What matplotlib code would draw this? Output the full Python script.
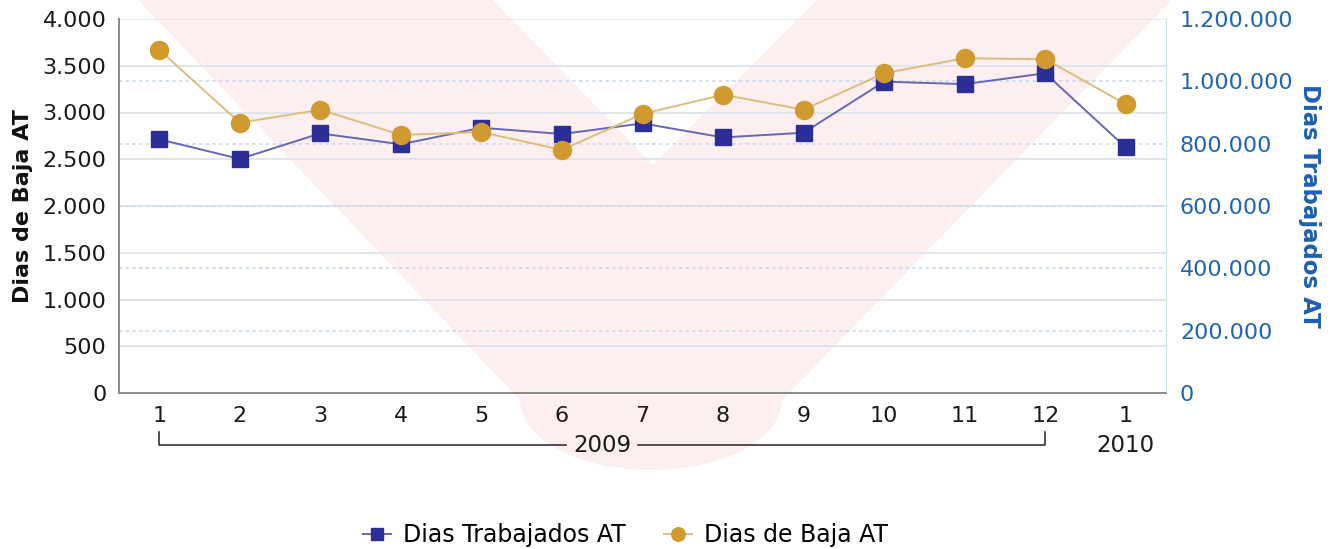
import numpy as np
import matplotlib
matplotlib.use("Agg")
import matplotlib.pyplot as plt
from matplotlib.patches import Polygon
from matplotlib.lines import Line2D
from matplotlib.ticker import FuncFormatter, MultipleLocator
from matplotlib.transforms import blended_transform_factory

plt.rcParams['font.family'] = ['DejaVu Sans']

# data
months = ['1', '2', '3', '4', '5', '6', '7', '8', '9', '10', '11', '12', '1']
years = ['2009', '2010']
dias_baja = [3670, 2890, 3030, 2760, 2790, 2600, 2985, 3190, 3030, 3420, 3580, 3570, 3090]
dias_trabajados = [814000, 751000, 833000, 798000, 851000, 831000, 865000,
                   820000, 835000, 999000, 991000, 1026000, 788000]

W, H = 1342, 549
fig = plt.figure(figsize=(W / 100, H / 100), dpi=100, facecolor='white')


def px(x, y):
    return (x / W, 1 - y / H)


# pink "V" watermark in the background
outer = [px(1172, 0)] + [px(651 + 131 * np.cos(a), 400 + 70 * np.sin(a))
                         for a in np.linspace(0, np.pi, 40)] + [px(138, 0)]
fig.patches.append(Polygon(outer, closed=True, transform=fig.transFigure,
                           facecolor='#FDEFEF', edgecolor='none', zorder=0))
inner = [px(493, 0), px(817, 0), px(653, 165)]
fig.patches.append(Polygon(inner, closed=True, transform=fig.transFigure,
                           facecolor='white', edgecolor='none', zorder=0))

ax = fig.add_axes([119 / W, 1 - 393 / H, (1166 - 119) / W, (393 - 19) / H])
ax2 = ax.twinx()
ax.set_zorder(2)
ax2.set_zorder(1)
ax.patch.set_visible(False)
ax2.patch.set_visible(False)

x = np.arange(len(months))

# grids (both drawn on the lower axes so markers stay on top)
blend = blended_transform_factory(ax2.transAxes, ax.transData)
for v in np.arange(500, 4001, 500):
    ax2.plot([0, 1], [v, v], transform=blend, color='#DCE2E8', lw=1.2, zorder=0)
for v in np.arange(200000, 1000001, 200000):
    ax2.axhline(v, color='#C9D9EE', lw=1.2, ls=(0, (2, 2)), zorder=0)

ax2.plot(x, dias_trabajados, color='#6567B5', lw=1.4, marker='s', markersize=11.5,
         markerfacecolor='#2B2E96', markeredgecolor='#2B2E96', zorder=3,
         label='Dias Trabajados AT')
ax.plot(x, dias_baja, color='#D9BE80', lw=1.4, marker='o', markersize=13,
        markerfacecolor='#D09A2E', markeredgecolor='#D09A2E', zorder=3,
        label='Dias de Baja AT')

ax.set_xlim(-0.5, len(months) - 0.5)
ax.set_ylim(0, 4000)
ax2.set_ylim(0, 1200000)
ax.yaxis.set_major_locator(MultipleLocator(500))
ax2.yaxis.set_major_locator(MultipleLocator(200000))
fmt = FuncFormatter(lambda v, p: f'{v:,.0f}'.replace(',', '.'))
ax.yaxis.set_major_formatter(fmt)
ax2.yaxis.set_major_formatter(fmt)
ax.set_xticks(x)
ax.set_xticklabels(months)

ax.tick_params(axis='both', length=0, labelsize=16, colors='#1A1A1A', pad=9)
ax2.tick_params(axis='y', length=0, labelsize=16, colors='#2166B0', pad=10)

for a in (ax, ax2):
    a.spines['top'].set_visible(False)
    a.spines['left'].set_color('#8C8C8C')
    a.spines['bottom'].set_color('#8C8C8C')
    a.spines['right'].set_color('#CFE3EA')
    a.spines['left'].set_linewidth(1.3)
    a.spines['bottom'].set_linewidth(1.3)

ax.set_ylabel('Dias de Baja AT', fontsize=16, fontweight='bold', color='#111111',
              labelpad=7)
ax2.set_ylabel('Dias Trabajados AT', fontsize=16.5, fontweight='bold', color='#1E5FB0',
               rotation=-90, labelpad=20)

# year bracket under the month labels
bt = blended_transform_factory(ax.transData, ax.transAxes)
y_line = (393 - 445) / 374
y_tick = (393 - 432) / 374
mid = (0 + 11) / 2
gap = 0.45
ax.add_line(Line2D([0, 0, mid - gap], [y_tick, y_line, y_line], transform=bt,
                   color='#333333', lw=1.2, clip_on=False))
ax.add_line(Line2D([mid + gap, 11, 11], [y_line, y_line, y_tick], transform=bt,
                   color='#333333', lw=1.2, clip_on=False))
ax.text(mid, y_line, years[0], transform=bt, ha='center', va='center',
        fontsize=16.5, color='#1A1A1A')
ax.text(12, y_line, years[1], transform=bt, ha='center', va='center',
        fontsize=16.5, color='#1A1A1A')

h2, l2 = ax2.get_legend_handles_labels()
h1, l1 = ax.get_legend_handles_labels()
fig.legend(h2 + h1, l2 + l1, loc='center', bbox_to_anchor=(0.466, 1 - 535 / H),
           ncol=2, frameon=False, fontsize=17, handlelength=1.2,
           handletextpad=0.5, columnspacing=1.6, markerscale=0.75)

fig.savefig('out.png', dpi=100, facecolor='white')
